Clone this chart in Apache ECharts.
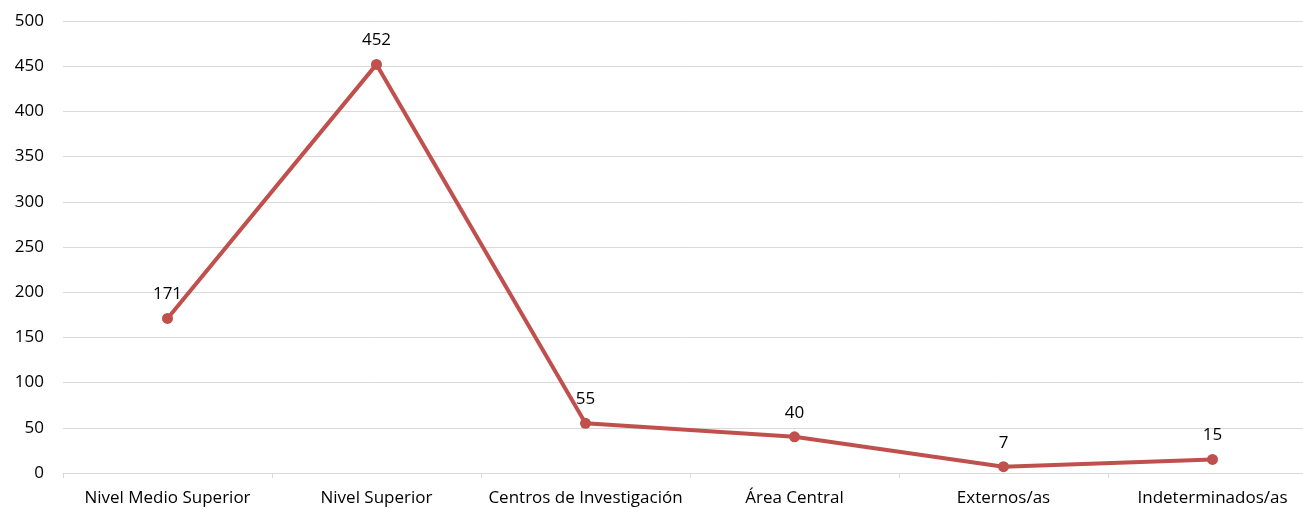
<!DOCTYPE html>
<html>
<head>
<meta charset="utf-8">
<script src="https://cdn.jsdelivr.net/npm/echarts@6/dist/echarts.min.js"></script>
<style>
  html, body { margin: 0; padding: 0; background: #fff; }
  #main { width: 1303px; height: 509px; }
</style>
</head>
<body>
<div id="main"></div>
<script>
var categories = ['Nivel Medio Superior', 'Nivel Superior', 'Centros de Investigación', 'Área Central', 'Externos/as', 'Indeterminados/as'];
var values = [171, 452, 55, 40, 7, 15];

var chart = echarts.init(document.getElementById('main'));
var font = '"Open Sans", Lato, sans-serif';
var option = {
  animation: false,
  // plot runs past the right edge, like the original
  grid: { left: 63, top: 21, width: 1254, height: 452, outerBoundsMode: 'none', containLabel: false },
  xAxis: {
    type: 'category',
    data: categories,
    boundaryGap: true,
    axisLine: { lineStyle: { color: '#d9d9d9', width: 1 } },
    axisTick: { show: true, length: 5, interval: 0, lineStyle: { color: '#d9d9d9' } },
    axisLabel: { color: '#000', fontSize: 17, fontFamily: font, margin: 17, interval: 0 }
  },
  yAxis: {
    type: 'value',
    min: 0,
    max: 500,
    interval: 50,
    axisLine: { show: false },
    axisTick: { show: false },
    axisLabel: { color: '#000', fontSize: 17, fontFamily: font, margin: 19 },
    splitLine: { lineStyle: { color: '#d9d9d9', width: 1 } }
  },
  series: [{
    type: 'line',
    data: values,
    symbol: 'circle',
    symbolSize: 11,
    lineStyle: { color: '#c0504d', width: 4 },
    itemStyle: { color: '#c0504d' },
    label: { show: true, position: 'top', distance: 10, color: '#000', fontSize: 17, fontFamily: font }
  }]
};
chart.setOption(option);
</script>
</body>
</html>
